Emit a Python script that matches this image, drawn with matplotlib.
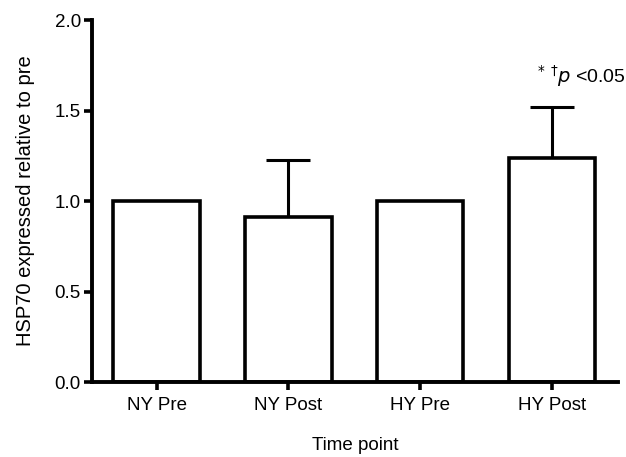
import numpy as np
import matplotlib
matplotlib.use('Agg')
import matplotlib.pyplot as plt

plt.rcParams['font.family'] = ['Liberation Sans', 'DejaVu Sans']

# data
groups = ['NY Pre', 'NY Post', 'HY Pre', 'HY Post']
means = [1.0, 0.91, 1.0, 1.236]
sem = [0.0, 0.317, 0.0, 0.282]

fig = plt.figure(figsize=(6.26, 4.57), dpi=100)
ax = fig.add_axes([0.147, 0.164, 0.84, 0.792])

x = np.arange(len(groups))
ax.bar(x, means, width=0.655, color='white', edgecolor='black', linewidth=2.6, zorder=2)
# one-sided (upper) error bars
err = [np.zeros(len(sem)), sem]
ax.errorbar(x, means, yerr=err, fmt='none', ecolor='black', elinewidth=2.2,
            capsize=16, capthick=2.2, zorder=1)

ax.text(3.22, 1.69, r'$^{*}$ $^{\dagger}$$p$ <0.05', ha='center', va='center', fontsize=14)

ax.set_xlim(-0.49, 3.5)
ax.set_ylim(0, 2.0)
ax.set_yticks([0.0, 0.5, 1.0, 1.5, 2.0])
ax.set_yticklabels(['0.0', '0.5', '1.0', '1.5', '2.0'])
ax.set_xticks(x)
ax.set_xticklabels(groups)

for s in ['top', 'right']:
    ax.spines[s].set_visible(False)
for s in ['left', 'bottom']:
    ax.spines[s].set_linewidth(2.8)
ax.tick_params(axis='both', width=2.6, length=6, labelsize=13.5, pad=2)
ax.tick_params(axis='x', pad=5)

ax.set_xlabel('Time point', fontsize=13.5, labelpad=16)
ax.set_ylabel('HSP70 expressed relative to pre', fontsize=14.5, labelpad=14)

fig.savefig('out.png', dpi=100)
